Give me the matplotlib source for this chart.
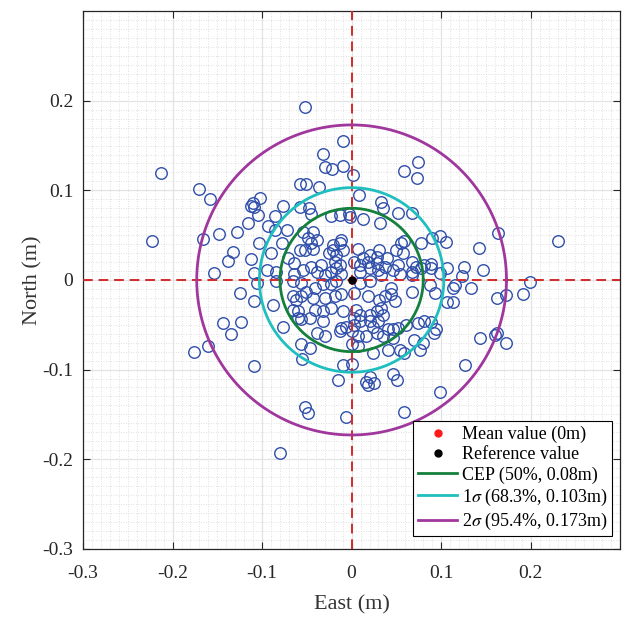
import numpy as np
import matplotlib
matplotlib.use("Agg")
import matplotlib.pyplot as plt
from matplotlib.ticker import MultipleLocator

plt.rcParams['font.family'] = ['Liberation Serif', 'DejaVu Serif']
plt.rcParams['mathtext.fontset'] = 'stix'

# Scatter points (East, North) in metres
east = [
    -0.052, -0.213, -0.171, -0.158, -0.110, -0.112, -0.102, -0.010, -0.032, -0.030,
    -0.022, -0.010, 0.001, 0.058, 0.074, 0.073, -0.058, -0.051, -0.036, 0.008,
    0.033, -0.109, -0.105, -0.116, -0.093, -0.223, -0.166, -0.148, -0.128, -0.103,
    -0.132, -0.138, -0.112, -0.095, -0.154, -0.109, -0.106, -0.125, -0.109, -0.144,
    -0.124, -0.135, -0.160, -0.176, 0.090, 0.099, 0.105, 0.142, 0.163, 0.230,
    0.089, 0.089, 0.107, 0.125, 0.147, 0.123, 0.099, 0.115, 0.113, 0.133,
    0.093, 0.088, 0.106, 0.113, 0.162, 0.172, 0.191, 0.199, 0.089, 0.094,
    0.092, 0.143, 0.160, 0.162, 0.172, -0.055, -0.010, 0.000, -0.015, 0.016,
    0.020, 0.025, 0.018, 0.046, 0.051, -0.052, -0.049, -0.006, 0.059, -0.080,
    -0.109, 0.127, 0.099,
    # upper centre
    -0.077, -0.086, -0.058, -0.048, -0.045, -0.023, -0.013, -0.003, -0.002, 0.013,
    0.032, 0.035, 0.052, 0.067, -0.086, -0.072, -0.054, -0.043, -0.049, -0.045,
    -0.039, -0.078, -0.058, -0.052, -0.043, -0.021, -0.013, -0.012, -0.021, -0.025,
    -0.017, -0.010, 0.007, 0.020, 0.031, 0.028, 0.050, 0.055, 0.059, 0.057,
    0.078, -0.090, -0.071, -0.064, -0.054, -0.045, -0.034, -0.039, -0.019, -0.017,
    -0.013, -0.012, 0.003, 0.009, 0.013, 0.018, 0.020, 0.028, 0.029, 0.037,
    0.039, 0.046, 0.052, 0.068, 0.072, 0.068, 0.078, 0.081, -0.084, -0.064,
    -0.030, -0.023, 0.009, 0.033, 0.054, 0.067,
    # lower centre
    -0.084, -0.066, -0.056, -0.051, -0.041, -0.032, -0.023, -0.017, 0.009, 0.020,
    0.044, 0.068, -0.066, -0.062, -0.056, -0.043, -0.030, -0.019, -0.012, 0.003,
    0.018, 0.031, 0.037, 0.044, 0.048, -0.088, -0.066, -0.060, -0.041, -0.032,
    -0.023, -0.010, 0.005, 0.009, 0.020, 0.028, 0.033, 0.035, -0.060, -0.056,
    -0.047, -0.032, -0.012, -0.006, 0.003, 0.003, 0.009, 0.020, 0.029, 0.024,
    0.041, 0.046, 0.052, 0.061, 0.074, 0.081, -0.077, -0.039, -0.030, -0.013,
    0.000, 0.007, 0.016, 0.028, 0.035, 0.046, 0.070, 0.080, -0.056, -0.047,
    0.000, 0.007, 0.024, 0.041, 0.054, 0.059, 0.076,
]
north = [
    0.193, 0.119, 0.102, 0.090, 0.086, 0.083, 0.092, 0.155, 0.141, 0.126,
    0.124, 0.127, 0.117, 0.122, 0.132, 0.114, 0.107, 0.107, 0.104, 0.095,
    0.087, 0.081, 0.073, 0.064, 0.060, 0.044, 0.046, 0.051, 0.054, 0.041,
    0.031, 0.021, 0.023, 0.011, 0.008, 0.008, -0.003, -0.015, -0.023, -0.048,
    -0.047, -0.060, -0.074, -0.080, 0.047, 0.049, 0.042, 0.036, 0.052, 0.044,
    0.018, 0.013, 0.013, 0.015, 0.011, 0.004, 0.008, -0.006, -0.009, -0.009,
    -0.015, -0.006, -0.025, -0.025, -0.020, -0.017, -0.016, -0.002, -0.047, -0.055,
    -0.059, -0.065, -0.061, -0.059, -0.070, -0.088, -0.095, -0.094, -0.112, -0.114,
    -0.108, -0.115, -0.117, -0.105, -0.112, -0.142, -0.148, -0.153, -0.147, -0.193,
    -0.096, -0.095, -0.125,
    # upper centre
    0.083, 0.071, 0.081, 0.080, 0.074, 0.071, 0.073, 0.074, 0.070, 0.068,
    0.063, 0.080, 0.075, 0.075, 0.056, 0.056, 0.054, 0.054, 0.047, 0.041,
    0.045, 0.041, 0.033, 0.033, 0.035, 0.039, 0.041, 0.045, 0.033, 0.030,
    0.028, 0.033, 0.035, 0.028, 0.033, 0.026, 0.033, 0.041, 0.043, 0.030,
    0.041, 0.030, 0.024, 0.019, 0.011, 0.015, 0.017, 0.009, 0.020, 0.013,
    0.017, 0.007, 0.020, 0.017, 0.024, 0.020, 0.013, 0.019, 0.011, 0.015,
    0.024, 0.011, 0.017, 0.020, 0.015, 0.009, 0.013, 0.017, 0.009, 0.007,
    0.006, 0.009, 0.009, 0.006, 0.007, 0.006,
    # lower centre
    -0.001, -0.001, -0.003, -0.013, -0.009, -0.005, -0.005, -0.001, -0.003, -0.001,
    -0.009, -0.013, -0.018, -0.022, -0.018, -0.020, -0.020, -0.018, -0.016, -0.015,
    -0.018, -0.022, -0.018, -0.016, -0.024, -0.028, -0.033, -0.035, -0.033, -0.035,
    -0.031, -0.035, -0.033, -0.039, -0.039, -0.035, -0.031, -0.039, -0.042, -0.044,
    -0.042, -0.046, -0.054, -0.052, -0.050, -0.042, -0.046, -0.046, -0.046, -0.052,
    -0.055, -0.055, -0.054, -0.050, -0.048, -0.046, -0.052, -0.059, -0.063, -0.057,
    -0.057, -0.063, -0.063, -0.059, -0.063, -0.065, -0.067, -0.070, -0.072, -0.076,
    -0.072, -0.074, -0.081, -0.078, -0.078, -0.081, -0.078,
]

# Statistics circles
circle_labels = ['CEP (50%, 0.08m)', r'1$\sigma$ (68.3%, 0.103m)', r'2$\sigma$ (95.4%, 0.173m)']
circle_radii = [0.08, 0.103, 0.173]
circle_colors = ['#14803c', '#1fbfbf', '#a0379c']

mean_value = (0.0, 0.0)
reference_value = (0.0, 0.0)

tick_values = [-0.3, -0.2, -0.1, 0, 0.1, 0.2]
tick_labels = ['-0.3', '-0.2', '-0.1', '0', '0.1', '0.2']

fig = plt.figure(figsize=(6.29, 6.18), dpi=100)
ax = fig.add_axes([0.132, 0.112, 0.854, 0.870])

ax.set_xlim(-0.3, 0.3)
ax.set_ylim(-0.3, 0.3)

ax.xaxis.set_minor_locator(MultipleLocator(0.01))
ax.yaxis.set_minor_locator(MultipleLocator(0.01))
ax.grid(which='major', color='#e3e3e3', linewidth=0.9, linestyle='-')
ax.grid(which='minor', color='#d6d6d6', linewidth=0.6, linestyle=(0, (1, 2)))
ax.set_axisbelow(True)

ax.plot(east, north, linestyle='none', marker='o', markersize=8.3,
        markerfacecolor='none', markeredgecolor='#2f4eaa', markeredgewidth=1.0, zorder=3)

ax.axvline(0, color='#d42a2a', linestyle=(0, (5, 3)), linewidth=1.4, zorder=4)
ax.axhline(0, color='#d42a2a', linestyle=(0, (5, 3)), linewidth=1.4, zorder=4)

theta = np.linspace(0, 2 * np.pi, 400)
h_mean, = ax.plot([mean_value[0]], [mean_value[1]], 'o', color='#ff1a1a', markersize=5,
                  linestyle='none', zorder=6, label='Mean value (0m)')
h_ref, = ax.plot([reference_value[0]], [reference_value[1]], 'o', color='black', markersize=5,
                 linestyle='none', zorder=7, label='Reference value')
handles = [h_mean, h_ref]
for r, c, lab in zip(circle_radii, circle_colors, circle_labels):
    h, = ax.plot(r * np.cos(theta), r * np.sin(theta), color=c, linewidth=2.0, zorder=5, label=lab)
    handles.append(h)

leg = ax.legend(handles=handles, loc='lower right', bbox_to_anchor=(0.985, 0.023),
                fontsize=13, frameon=True, fancybox=False, edgecolor='black',
                framealpha=1, borderpad=0.25, labelspacing=0.17, handlelength=2.2,
                handletextpad=0.25, borderaxespad=0.0)
leg.get_frame().set_linewidth(0.8)

ax.set_xticks(tick_values)
ax.set_xticklabels(tick_labels)
ax.set_yticks(tick_values)
ax.set_yticklabels(tick_labels)

ax.tick_params(which='both', direction='in', top=True, right=True, labelsize=14,
               colors='#262626', labelcolor='#262626')
ax.tick_params(which='major', length=5, width=0.8)
ax.tick_params(axis='x', which='major', pad=12)
ax.tick_params(axis='y', which='major', pad=7)
ax.tick_params(which='minor', length=0)
for s in ax.spines.values():
    s.set_color('#262626')
    s.set_linewidth(0.9)

ax.set_xlabel('East (m)', fontsize=16, color='#333333', labelpad=9)
ax.set_ylabel('North (m)', fontsize=16, color='#333333', labelpad=0)

fig.savefig('out.png', dpi=100)
